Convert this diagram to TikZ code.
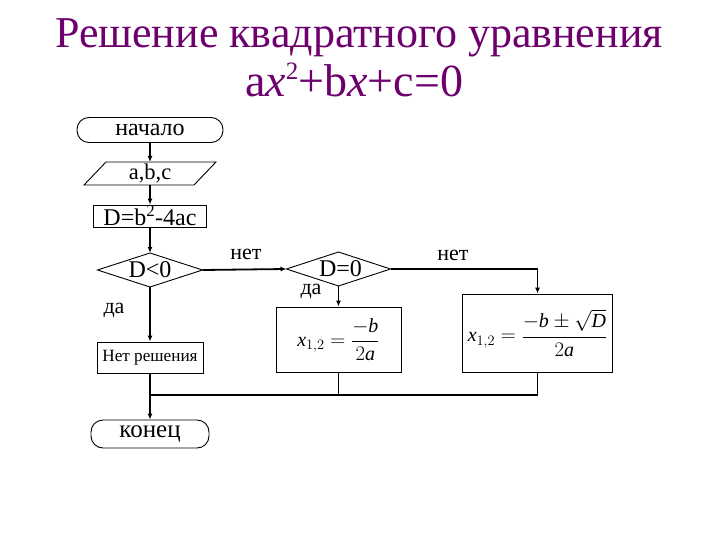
\documentclass[tikz,border=0pt]{standalone}
\usepackage{fontspec}
\setmainfont{Liberation Serif}
\usetikzlibrary{arrows.meta}
\definecolor{titlecol}{RGB}{110,0,110}
\begin{document}
\begin{tikzpicture}[x=1pt,y=-1pt,
  term/.style={draw, rounded corners=12pt, line width=0.9pt, inner sep=0pt, font=\fontsize{24}{26}\selectfont},
  proc/.style={draw, line width=0.9pt, inner sep=0pt, font=\fontsize{24}{26}\selectfont},
  ghost/.style={inner sep=0pt, outer sep=0pt, font=\fontsize{24}{26}\selectfont},
  outline/.style={line width=0.9pt},
  conn/.style={line width=1.8pt, -{Latex[length=6pt,width=5pt]}},
  wire/.style={line width=1.8pt},
  lbl/.style={inner sep=0pt, font=\fontsize{22}{24}\selectfont},
  titletext/.style={inner sep=0pt, anchor=base, text=titlecol}]
\useasboundingbox (0,0) rectangle (720,540);
% title
\node[titletext, font=\fontsize{44}{48}\selectfont] (t1) at (359,48) {Решение квадратного уравнения};
\node[titletext, font=\fontsize{46}{50}\selectfont] (t2) at (354,97) {a\textit{x}\raisebox{17pt}{\fontsize{25}{25}\selectfont 2}+b\textit{x}+c=0};
% left column
\node[term, minimum width=146pt, minimum height=25pt] (start) at (150,130) {начало};
\node[ghost, minimum width=110pt, minimum height=23pt, font=\fontsize{22.5}{24}\selectfont] (abc) at (150,173.5) {a,b,c};
\draw[outline] ([xshift=11pt]abc.north west) -- ([xshift=11pt]abc.north east)
  -- ([xshift=-11pt]abc.south east) -- ([xshift=-11pt]abc.south west) -- cycle;
\node[proc, minimum width=113pt, minimum height=22pt] (dcalc) at (150,216) {D=b\textsuperscript{2}-4ac};
\node[ghost, minimum width=105pt, minimum height=34pt] (d1) at (150,270) {D<0};
\draw[outline] (d1.west) -- (d1.north) -- (d1.east) -- (d1.south) -- cycle;
\node[proc, minimum width=106pt, minimum height=31pt, font=\fontsize{17.2}{19}\selectfont] (nores) at (150,357.5) {Нет решения};
\node[term, minimum width=118pt, minimum height=28pt, font=\fontsize{25}{27}\selectfont] (end) at (150,434) {конец};
% middle
\node[ghost, minimum width=104pt, minimum height=34pt] (d2) at (338.5,269) {\hspace{4pt}D=0};
\draw[outline] (d2.west) -- (d2.north) -- (d2.east) -- (d2.south) -- cycle;
\node[proc, minimum width=125pt, minimum height=65pt, font=\fontsize{20}{22}\selectfont] (b1) at (338.5,339.5)
  {$\textit{x}_{1,2}=\displaystyle\frac{-\textit{b}}{2\textit{a}}$};
% right
\node[proc, minimum width=150pt, minimum height=78pt, font=\fontsize{20}{22}\selectfont] (b2) at (537.5,333)
  {$\textit{x}_{1,2}=\displaystyle\frac{-\textit{b}\pm\sqrt{\textit{D}}}{2\textit{a}}$};
% connectors
\draw[conn] (start) -- (abc);
\draw[conn] (abc) -- (dcalc);
\draw[conn] (dcalc) -- (d1.north);
\draw[conn] (d1.south) -- (nores);
\draw[conn] (d1.east) -- (d2.west);
\draw[conn] (d2.south) -- (b1);
\draw[conn] (d2.east) -| (b2.north);
\draw[conn] (nores) -- (end);
\coordinate (j) at (150,395);
\draw[wire] (b1.south) |- (j);
\draw[wire] (b2.south) |- (j);
% labels
\node[lbl] (l1) at (114,310) {да};
\node[lbl] (l2) at (246,254) {нет};
\node[lbl] (l3) at (311,291) {да};
\node[lbl] (l4) at (453,255) {нет};
\end{tikzpicture}
\end{document}
